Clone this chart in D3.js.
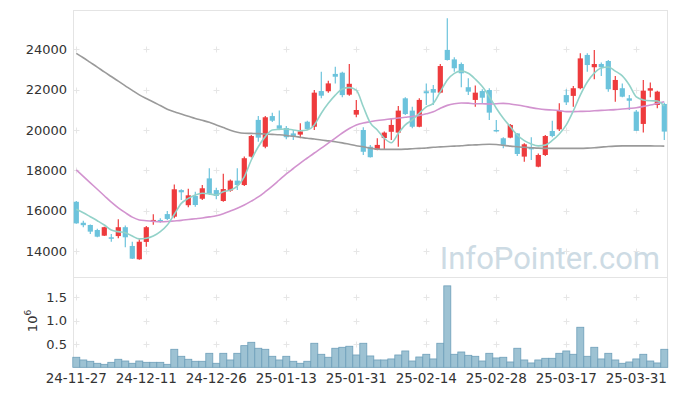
<!DOCTYPE html>
<meta charset="utf-8">
<head>
    <script src="https://d3js.org/d3.v7.min.js"></script>
    <style>
        body { margin: 0; background: #fff; }
        text { font-family: "DejaVu Sans", sans-serif; fill: #333; }
    </style>
</head>
<body>
<div id="chart"></div>
<script>

    // daily candles, 24-11-27 .. 25-04-04 (85 trading days)
    const opens  = [16440,15400,15290,15040,14760,14680,14740,15180,14250,13590,14450,15440,15540,15830,15700,17020,16270,16730,16590,17600,
                    17020,16480,16990,17490,17270,18680,20500,19170,20690,20230,20100,19830,19770,20410,20160,21930,21920,22780,22840,21750,
                    20760,20000,19170,19010,19600,19910,19870,21570,20960,20160,21920,22030,21850,23970,23500,23270,22120,21490,21930,21980,
                    20000,19590,19620,19830,18680,19140,18180,18760,19950,20030,21730,21690,22070,23720,23110,23270,23420,21980,22070,21570,
                    20910,20300,21950,21240,21290]
    const highs  = [16480,15500,15320,15100,15200,14840,15570,15270,14460,14580,15240,15820,15620,15980,17300,17060,17090,16940,17270,18100,
                    17140,17830,17550,18100,18680,19750,20690,20690,20860,20960,20200,20000,20330,20460,21980,22890,22440,23140,22890,23270,
                    21490,20130,19260,19590,19920,20580,21190,21620,21150,21570,22310,22230,23270,25540,23600,23340,22560,22200,22020,22070,
                    20500,19640,20300,19840,19340,19640,18840,19750,20460,21320,22020,22180,23800,23800,23970,23340,23470,22680,22310,21730,
                    20990,22480,22350,21950,21350]
    const lows   = [15350,15180,14840,14680,14740,14460,14630,14180,13600,13560,14210,15300,15400,15540,15620,16530,16170,16200,16530,16780,
                    16560,16440,16940,17020,17220,18640,19420,19090,20400,20000,19540,19500,19590,20000,20000,21570,21850,22310,21620,21700,
                    20630,18760,18630,18990,19040,19500,19170,20740,20080,20130,21240,21240,21820,23440,22890,22120,21730,21150,21320,20500,
                    19910,19090,19590,18710,18430,18510,18150,18710,19640,19950,21240,21150,22020,22890,22510,22680,21900,21400,21620,20990,
                    19950,19870,21620,21080,19500]
    const closes = [15370,15280,14960,14710,15180,14640,15180,14680,13620,14460,15180,15540,15470,15590,17060,16910,16760,16280,17110,16830,
                    16730,17070,17490,17270,18600,19700,19620,20630,20460,20060,19640,19670,19930,20050,21850,21700,22310,22640,21730,22290,
                    20990,18920,18650,19260,19870,20250,20960,20790,20160,21490,21820,21850,23170,23470,23060,22810,21900,21850,21600,20860,
                    19950,19260,20250,18810,19290,19040,18760,19700,19700,20940,21370,22070,23550,23220,23270,23110,22020,22480,21650,21450,
                    19960,21950,22070,21900,19920]
    const volumes = [215000,157000,129000,86000,64000,107000,172000,135000,86000,135000,107000,107000,107000,64000,386000,236000,172000,129000,129000,300000,
                     86000,300000,157000,300000,464000,536000,408000,386000,236000,157000,236000,129000,86000,129000,515000,279000,215000,408000,429000,451000,
                     264000,515000,243000,157000,157000,179000,264000,350000,135000,221000,279000,179000,515000,1745000,279000,328000,257000,236000,135000,300000,
                     200000,215000,114000,408000,157000,93000,157000,193000,193000,300000,350000,279000,858000,236000,429000,179000,300000,157000,86000,114000,
                     179000,279000,135000,93000,386000]

    // moving average lines as drawn
    const maShort = [16070,15900,15700,15500,15290,15040,14960,14910,14740,14600,14630,14740,14960,15290,15820,16360,16610,16780,16860,16830,
                     16780,16940,17020,17220,17680,18510,19170,19670,20000,20030,20050,20000,19960,20000,20250,20830,21320,21730,22030,22100,
                     21980,21150,20350,20000,19590,19370,19830,20250,20500,20830,21150,21320,21900,22480,22810,22920,22810,22520,22150,21650,
                     21080,20580,20160,19750,19470,19300,19210,19250,19480,19800,20250,20940,21730,22380,22820,23070,23120,22920,22680,22230,
                     21640,21490,21450,21440,21190]
    const maMid   = [18020,17700,17380,17060,16740,16420,16140,15900,15680,15540,15500,15470,15450,15460,15490,15520,15560,15600,15640,15690,
                     15750,15850,15980,16120,16280,16470,16680,16940,17220,17520,17820,18090,18360,18610,18860,19100,19350,19600,19850,20070,
                     20250,20350,20410,20470,20510,20550,20590,20630,20670,20720,20800,20900,21080,21220,21300,21340,21330,21300,21300,21290,
                     21300,21320,21290,21240,21180,21110,21050,21010,20990,20960,20910,20910,20920,20930,20950,20970,20990,21010,21040,21070,
                     21100,21170,21240,21320,21400]
    const maLong  = [23800,23580,23350,23120,22880,22650,22420,22190,21960,21740,21560,21390,21210,21030,20900,20790,20680,20570,20480,20380,
                     20250,20120,19990,19890,19840,19830,19820,19800,19780,19760,19730,19690,19640,19590,19550,19500,19460,19420,19360,19290,
                     19220,19170,19100,19050,19040,19040,19040,19050,19070,19090,19110,19140,19160,19180,19200,19220,19250,19260,19280,19290,
                     19280,19240,19200,19170,19140,19120,19100,19090,19090,19090,19090,19090,19090,19100,19120,19150,19180,19200,19210,19210,
                     19210,19210,19210,19205,19200]

    const priceTicks = [14000, 16000, 18000, 20000, 22000, 24000]
    const volumeTicks = [500000, 1000000, 1500000]
    const dateTickIdx = [0, 10, 20, 30, 40, 50, 60, 70, 80]
    const dateTickLabels = ["24-11-27","24-12-11","24-12-26","25-01-13","25-01-31","25-02-14","25-02-28","25-03-17","25-03-31"]

    const svg = d3.select("#chart").append("svg")
        .attr("width", 677)
        .attr("height", 396)

    const panelLeft = 73.5, panelRight = 667.5, panelTop = 10.5, panelSplit = 277.5, panelBottom = 367.5

    const x = d3.scaleLinear().domain([0, 84]).range([76.3, 664.3])
    const y = d3.scaleLinear().domain([14000, 24000]).range([251.0, 49.3])
    const yv = d3.scaleLinear().domain([0, 1500000]).range([367.3, 297.3])

    // panel frames
    svg.append("rect")
        .attr("x", panelLeft).attr("y", panelTop)
        .attr("width", panelRight - panelLeft).attr("height", panelBottom - panelTop)
        .attr("fill", "none").attr("stroke", "#e4e4e4")
    svg.append("line")
        .attr("x1", panelLeft).attr("x2", panelRight)
        .attr("y1", panelSplit).attr("y2", panelSplit)
        .attr("stroke", "#e4e4e4")

    // grid crosses
    const crossRows = priceTicks.map(d => y(d)).concat(volumeTicks.map(d => yv(d)))
    const grid = svg.append("g").attr("stroke", "#e6e6e6").attr("stroke-width", 1)
    dateTickIdx.forEach(i => {
        crossRows.forEach(cy => {
            const cx = Math.round(x(i)) + 0.5
            const yy = Math.round(cy) + 0.5
            grid.append("line").attr("x1", cx - 3).attr("x2", cx + 3).attr("y1", yy).attr("y2", yy)
            grid.append("line").attr("x1", cx).attr("x2", cx).attr("y1", yy - 3).attr("y2", yy + 3)
        })
    })

    // watermark
    svg.append("text")
        .attr("x", 660)
        .attr("y", 269)
        .attr("text-anchor", "end")
        .style("font-family", "Roboto, 'Noto Sans', sans-serif")
        .style("font-size", "31px")
        .style("fill", "#cddbe4")
        .text("InfoPointer.com")

    // volume bars
    svg.append("g").selectAll("rect")
        .data(volumes)
        .enter()
        .append("rect")
        .attr("x", (d, i) => x(i) - 3.5)
        .attr("width", 7)
        .attr("y", d => yv(d))
        .attr("height", d => yv(0) - yv(d))
        .attr("fill", "#9dc2d3")
        .attr("stroke", "#6e9fb9")
        .attr("stroke-width", 0.8)

    // candles
    const idx = d3.range(opens.length)
    const up = i => closes[i] >= opens[i]
    const candles = svg.append("g")
    candles.selectAll("line")
        .data(idx)
        .enter()
        .append("line")
        .attr("x1", i => x(i)).attr("x2", i => x(i))
        .attr("y1", i => y(highs[i])).attr("y2", i => y(lows[i]))
        .attr("stroke", i => up(i) ? "#ee3b3d" : "#6cc3dc")
        .attr("stroke-width", 1.2)
    candles.selectAll("rect")
        .data(idx)
        .enter()
        .append("rect")
        .attr("x", i => x(i) - 2.6)
        .attr("width", 5.2)
        .attr("y", i => y(Math.max(opens[i], closes[i])))
        .attr("height", i => Math.max(1.5, Math.abs(y(opens[i]) - y(closes[i]))))
        .attr("fill", i => up(i) ? "#ee3b3d" : "#6cc3dc")

    // moving averages
    const line = d3.line()
        .x((d, i) => x(i))
        .y(d => y(d))
        .curve(d3.curveMonotoneX)
    svg.append("path").datum(maLong)
        .attr("fill", "none").attr("stroke", "#9a9a9a").attr("stroke-width", 1.6).attr("d", line)
    svg.append("path").datum(maMid)
        .attr("fill", "none").attr("stroke", "#d293cf").attr("stroke-width", 1.6).attr("d", line)
    svg.append("path").datum(maShort)
        .attr("fill", "none").attr("stroke", "#93d2c9").attr("stroke-width", 1.6).attr("d", line)

    // axis labels
    svg.append("g").selectAll("text")
        .data(priceTicks)
        .enter()
        .append("text")
        .attr("x", 67)
        .attr("y", d => y(d))
        .attr("dy", "0.36em")
        .attr("text-anchor", "end")
        .style("font-size", "13px")
        .text(d => d)

    svg.append("g").selectAll("text")
        .data(volumeTicks)
        .enter()
        .append("text")
        .attr("x", 67)
        .attr("y", d => yv(d))
        .attr("dy", "0.36em")
        .attr("text-anchor", "end")
        .style("font-size", "13px")
        .text(d => d3.format(".1f")(d / 1e6))

    const unit = svg.append("text")
        .attr("transform", "translate(36.5, 321) rotate(-90)")
        .attr("text-anchor", "middle")
        .style("font-size", "13px")
        .text("10")
    unit.append("tspan").attr("dy", -6).style("font-size", "9px").text("6")

    svg.append("g").selectAll("text")
        .data(dateTickIdx)
        .enter()
        .append("text")
        .attr("x", d => x(d))
        .attr("y", 383)
        .attr("text-anchor", "middle")
        .style("font-size", "13.5px")
        .text((d, i) => dateTickLabels[i])

</script>
</body>
